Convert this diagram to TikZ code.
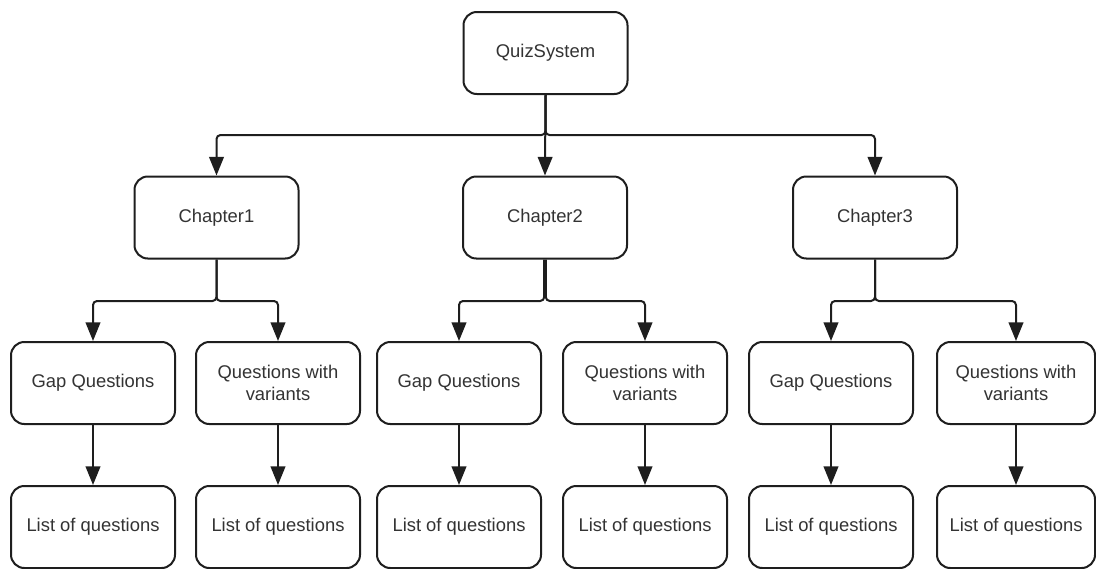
\documentclass[tikz,border=0pt]{standalone}
\usepackage{fontspec}
\setmainfont{Liberation Sans}
\usetikzlibrary{arrows.meta}
\definecolor{ink}{HTML}{1E1E1E}
\definecolor{txt}{HTML}{333333}
\tikzset{
  box/.style={draw=ink, line width=1.5pt, rounded corners=10pt, fill=white,
    minimum width=123pt, minimum height=61.5pt, align=center, text=txt,
    font=\fontsize{13.8}{16.3}\selectfont, inner sep=0pt},
  conn/.style={draw=ink, line width=1.5pt, rounded corners=3pt,
    -{Triangle[length=14pt,width=11pt]}}
}
\begin{document}
\begin{tikzpicture}[x=0.75pt,y=-0.75pt]
\useasboundingbox (0,0) rectangle (1096,568);

% root and chapters
\node[box] (quiz) at (545.5,53) {QuizSystem};
\node[box] (ch1) at (216.5,217.5) {Chapter1};
\node[box] (ch2) at (545,217.5) {Chapter2};
\node[box] (ch3) at (875,217.5) {Chapter3};

% question groups
\node[box] (gap1) at (93,383) {Gap Questions};
\node[box] (var1) at (278,383) {Questions with\\variants};
\node[box] (gap2) at (459,383) {Gap Questions};
\node[box] (var2) at (645,383) {Questions with\\variants};
\node[box] (gap3) at (831,383) {Gap Questions};
\node[box, minimum width=118.5pt] (var3) at (1016,383) {Questions with\\variants};

% question lists
\node[box] (list1) at (93,527) {List of questions};
\node[box] (list2) at (278,527) {List of questions};
\node[box] (list3) at (459,527) {List of questions};
\node[box] (list4) at (645,527) {List of questions};
\node[box] (list5) at (831,527) {List of questions};
\node[box, minimum width=118.5pt] (list6) at (1016,527) {List of questions};

% root to chapters
\draw[conn] (quiz.south) -- (quiz.south |- 0,135) -| (ch1.north);
\draw[conn] (quiz.south) -- (ch2.north);
\draw[conn] (quiz.south) -- (quiz.south |- 0,135) -| (ch3.north);

% chapters to question groups
\draw[conn] (ch1.south) -- (ch1.south |- 0,301) -| (gap1.north);
\draw[conn] (ch1.south) -- (ch1.south |- 0,301) -| (var1.north);
\draw[conn] ([xshift=-0.6pt]ch2.south) -- ([xshift=-0.6pt]ch2.south |- 0,301) -| (gap2.north);
\draw[conn] ([xshift=0.6pt]ch2.south) -- ([xshift=0.6pt]ch2.south |- 0,301) -| (var2.north);
\draw[conn] (ch3.south) -- (ch3.south |- 0,301) -| (gap3.north);
\draw[conn] (ch3.south) -- (ch3.south |- 0,301) -| (var3.north);

% question groups to lists
\draw[conn] (gap1) -- (list1);
\draw[conn] (var1) -- (list2);
\draw[conn] (gap2) -- (list3);
\draw[conn] (var2) -- (list4);
\draw[conn] (gap3) -- (list5);
\draw[conn] (var3) -- (list6);
\end{tikzpicture}
\end{document}
